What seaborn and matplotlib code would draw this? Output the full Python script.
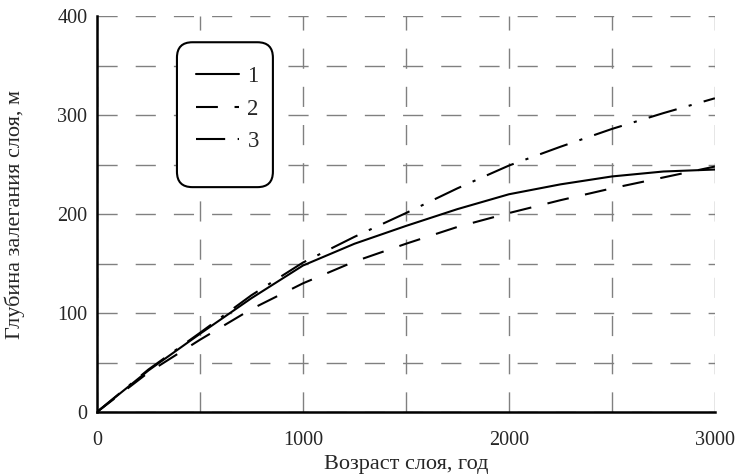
import matplotlib
matplotlib.use("Agg")
import matplotlib.pyplot as plt
from matplotlib.patches import FancyBboxPatch
import seaborn as sns
import numpy as np
import pandas as pd

age = [0, 250, 500, 750, 1000, 1250, 1500, 1750, 2000, 2250, 2500, 2750, 3000]
depth1 = [0, 42, 79, 115, 148, 170, 188, 205, 220, 230, 238, 243, 245]
depth2 = [0, 40, 73, 104, 130, 152, 170, 187, 201, 214, 226, 237, 248]
depth3 = [0, 43, 80, 118, 151, 177, 201, 226, 249, 268, 286, 302, 317]
labels = ["1", "2", "3"]
xticks = [0, 1000, 2000, 3000]
yticks = [0, 100, 200, 300, 400]

sns.set_style("white")
plt.rcParams['font.family'] = ['Liberation Serif', 'DejaVu Serif']

fig = plt.figure(figsize=(7.37, 4.74), dpi=100)
ax = fig.add_axes([0.1316, 0.1308, 0.970 - 0.1316, 0.966 - 0.1308])

styles = ['-', (0, (10.5, 8)), (0, (14, 6, 1.5, 6))]
for d, lab, ls in zip([depth1, depth2, depth3], labels, styles):
    sns.lineplot(x=age, y=d, ax=ax, color='black', linewidth=1.5,
                 linestyle=ls, label=lab, legend=False)

ax.set_xlim(0, 3000)
ax.set_ylim(0, 400)
ax.set_xticks(xticks)
ax.set_yticks(yticks)
ax.set_xticks(np.arange(0, 3001, 500), minor=True)
ax.set_yticks(np.arange(0, 401, 50), minor=True)
ax.grid(True, which='both', color='#808080', linewidth=1.0,
        linestyle=(0, (14.5, 13)))
ax.tick_params(axis='y', which='major', direction='in', length=7, width=1.5,
               labelsize=14.5, color='black', pad=7)
ax.tick_params(axis='x', which='major', direction='in', length=7, width=1.5,
               labelsize=14.5, color='black', pad=14)
ax.tick_params(which='minor', direction='in', length=6, width=1.3, color='black')

for s in ['top', 'right']:
    ax.spines[s].set_visible(False)
for s in ['left', 'bottom']:
    ax.spines[s].set_color('black')
    ax.spines[s].set_linewidth(1.8)

ax.set_xlabel("Возраст слоя, год", fontsize=16)
ax.set_ylabel("Глубина залегания слоя, м", fontsize=16)
ax.xaxis.set_label_coords(0.5, -0.108)
ax.yaxis.set_label_coords(-0.116, 0.5)

# legend frame (rounded box) and entries
frame = FancyBboxPatch((0.1294, 0.568), 0.1553, 0.366,
                       boxstyle='round,pad=0,rounding_size=0.025',
                       transform=ax.transAxes, facecolor='white',
                       edgecolor='black', linewidth=1.5, zorder=5,
                       mutation_aspect=1.56)
ax.add_patch(frame)
leg = ax.legend(loc='upper left', bbox_to_anchor=(0.16, 0.874),
                fontsize=16.5, frameon=False,
                handlelength=1.9, handletextpad=0.35, labelspacing=0.5,
                borderpad=0, borderaxespad=0)
leg.set_zorder(6)

fig.savefig("out.png", dpi=100, facecolor='white')
